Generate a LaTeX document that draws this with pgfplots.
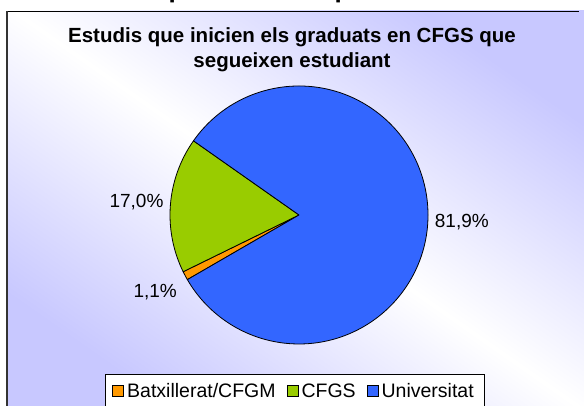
\documentclass[border=0pt]{standalone}
\usepackage{pgfplots}
\pgfplotsset{compat=1.18}
\usepackage{pgfplotstable}
\usetikzlibrary{calc}
\usepackage{fontspec}
\setmainfont{Liberation Sans}
\definecolor{cBat}{RGB}{255,153,0}
\definecolor{cCFGS}{RGB}{153,204,0}
\definecolor{cUni}{RGB}{51,102,255}
\definecolor{lav}{RGB}{200,200,255}

\pgfplotstableread[col sep=comma]{
label,value
Batxillerat/CFGM,1.1
CFGS,17.0
Universitat,81.9
}\piedata

% slice angles (clockwise, first slice starts at 210.06 deg)
\xdef\curang{210.06}
\pgfplotsforeachungrouped \i in {0,1,2}{%
  \pgfplotstablegetelem{\i}{value}\of\piedata
  \expandafter\xdef\csname val\i\endcsname{\pgfplotsretval}%
  \pgfmathsetmacro\endang{\curang-3.6*\pgfplotsretval}%
  \pgfmathsetmacro\midang{(\curang+\endang)/2}%
  \expandafter\xdef\csname sa\i\endcsname{\curang}%
  \expandafter\xdef\csname ea\i\endcsname{\endang}%
  \expandafter\xdef\csname ma\i\endcsname{\midang}%
  \xdef\curang{\endang}%
}
\expandafter\def\csname col0\endcsname{cBat}
\expandafter\def\csname col1\endcsname{cCFGS}
\expandafter\def\csname col2\endcsname{cUni}

\begin{document}
\begin{tikzpicture}
% background and frame
\fill[white] (0,0) rectangle (584pt,406pt);
\shade[left color=lav, right color=lav, middle color=white, shading angle=-35] (7pt,0pt) rectangle (584pt,395pt);
\draw[black, line width=0.8pt] (7pt,395pt) -- (579pt,395pt);
\draw[black!80, line width=2pt] (7pt,0pt) -- (7pt,395.4pt);
% cut-off glyphs of the page heading
\node[anchor=base west, inner sep=0pt, font=\bfseries\fontsize{26}{26}\selectfont] at (168.5pt,408pt) {p};
\node[anchor=base west, inner sep=0pt, font=\bfseries\fontsize{26}{26}\selectfont] at (334.5pt,408pt) {p};

\begin{axis}[
  at={(0,0)}, anchor=south west,
  x=1pt, y=1pt, xmin=0, xmax=584, ymin=0, ymax=406,
  hide axis, clip=false,
  /pgf/number format/assume math mode=true,
  legend columns=-1,
  legend style={at={(0.5043,0.0788)}, anchor=north, draw=black, fill=white,
    font=\fontsize{19.5}{21}\selectfont, inner xsep=7pt, inner ysep=8pt,
    nodes={inner xsep=3pt, inner ysep=1pt},
    /tikz/every even column/.append style={column sep=8pt}},
  legend image code/.code={\draw[#1] (0pt,-5.5pt) rectangle (11pt,5.5pt);},
]
\addlegendimage{fill=cBat, draw=black, line width=0.9pt}
\addlegendentry{Batxillerat/CFGM}
\addlegendimage{fill=cCFGS, draw=black, line width=0.9pt}
\addlegendentry{CFGS}
\addlegendimage{fill=cUni, draw=black, line width=0.9pt}
\addlegendentry{Universitat}

\pgfplotsinvokeforeach{0,1,2}{
  \filldraw[fill=\csname col#1\endcsname, draw=black, line width=0.8pt, line join=round]
    (axis cs:299,191) -- ++(\csname sa#1\endcsname:129pt)
    arc[start angle=\csname sa#1\endcsname, end angle=\csname ea#1\endcsname, radius=129pt] -- cycle;
  \node[font=\fontsize{19}{19}\selectfont, anchor=center]
    at ($(axis cs:299,191)+(\csname ma#1\endcsname:163pt)$)
    {\pgfmathprintnumber[fixed, fixed zerofill, precision=1, use comma, assume math mode=true]{\csname val#1\endcsname}\%};
}
\end{axis}
\node[font=\bfseries\fontsize{20.5}{25}\selectfont, align=center, anchor=center] at (292pt,406pt-50pt) {Estudis que inicien els graduats en CFGS que\\segueixen estudiant};
\pgfresetboundingbox
\useasboundingbox (0,0) rectangle (584pt,406pt);
\end{tikzpicture}
\end{document}
